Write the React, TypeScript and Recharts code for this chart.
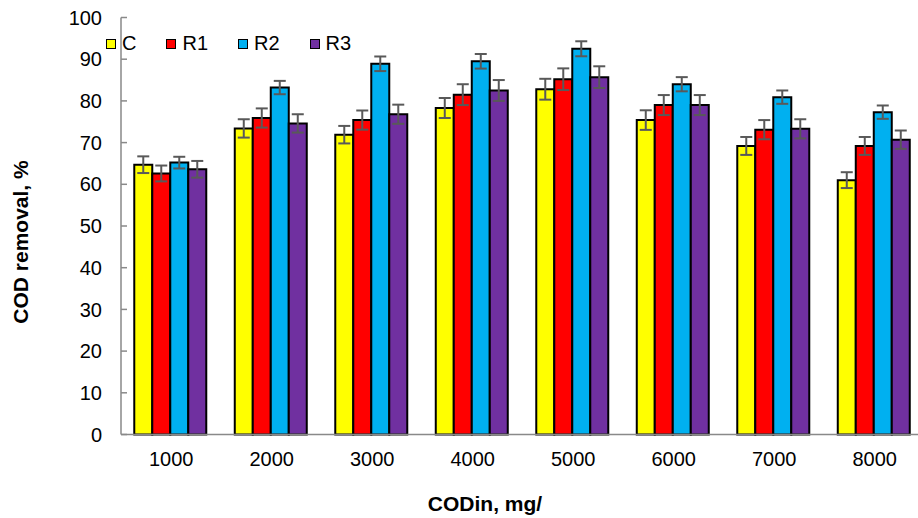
import React from 'react';
import { BarChart, Bar, XAxis, YAxis, Legend, ErrorBar } from 'recharts';

// COD influent concentrations (mg/L)
const categories = ['1000', '2000', '3000', '4000', '5000', '6000', '7000', '8000'];

// removal efficiency, %
const cValues = [64.7, 73.4, 71.9, 78.3, 82.8, 75.4, 69.2, 61.0];
const r1Values = [62.6, 75.9, 75.4, 81.5, 85.2, 79.0, 73.1, 69.2];
const r2Values = [65.2, 83.2, 88.9, 89.5, 92.5, 84.0, 80.9, 77.3];
const r3Values = [63.6, 74.6, 76.8, 82.5, 85.7, 79.0, 73.3, 70.7];

// error bar half-lengths
const cErrors = [2.0, 2.2, 2.1, 2.4, 2.5, 2.35, 2.15, 1.9];
const r1Errors = [1.9, 2.3, 2.3, 2.5, 2.6, 2.4, 2.3, 2.15];
const r2Errors = [1.4, 1.6, 1.75, 1.75, 1.8, 1.7, 1.6, 1.6];
const r3Errors = [2.0, 2.2, 2.3, 2.5, 2.6, 2.4, 2.3, 2.2];

const yTicks = [0, 10, 20, 30, 40, 50, 60, 70, 80, 90, 100];

const data = categories.map((name, i) => ({
  name,
  C: cValues[i],
  R1: r1Values[i],
  R2: r2Values[i],
  R3: r3Values[i],
  cErr: cErrors[i],
  r1Err: r1Errors[i],
  r2Err: r2Errors[i],
  r3Err: r3Errors[i],
}));

const FONT = '"Liberation Sans", Arial, sans-serif';
const AXIS_GRAY = '#898989';
const ERR_GRAY = '#595959';

const YTick = ({ x, y, payload }: any) => (
  <g>
    <line x1={x + 19} x2={x + 25} y1={y} y2={y} stroke={AXIS_GRAY} strokeWidth={1.5} />
    <text x={x} y={y} dy="0.355em" textAnchor="end" fontSize={20} fill="#000" fontFamily={FONT}>
      {payload.value}
    </text>
  </g>
);

const renderLegend = ({ payload }: any) => (
  <div style={{ display: 'flex', alignItems: 'center', fontFamily: FONT, fontSize: 20, color: '#000' }}>
    {(payload || []).map((p: any) => (
      <div key={p.value} style={{ display: 'flex', alignItems: 'center', marginRight: 30 }}>
        <div
          style={{
            width: 8,
            height: 8,
            border: '1.5px solid #000',
            backgroundColor: p.color,
            marginRight: 6,
          }}
        />
        <span>{p.value}</span>
      </div>
    ))}
  </div>
);

const xTitle = () => (
  <text x={485} y={511} textAnchor="middle" fontSize={21} fontWeight="bold" fill="#000" fontFamily={FONT}>
    CODin, mg/
  </text>
);

const yTitle = () => (
  <text
    x={20}
    y={242}
    transform="rotate(-90, 20, 242)"
    textAnchor="middle"
    dominantBaseline="central"
    fontSize={21}
    fontWeight="bold"
    fill="#000"
    fontFamily={FONT}
  >
    COD removal, %
  </text>
);

export default function App() {
  return (
    <div style={{ position: 'absolute', left: 0, top: 0, width: 918, height: 518, overflow: 'hidden', background: '#fff', fontFamily: FONT }}>
      <BarChart
        width={925}
        height={518}
        data={data}
        margin={{ top: 17.5, right: 0, bottom: 23.5, left: 0 }}
        barCategoryGap="13.2%"
        barGap={0}
      >
        <XAxis
          dataKey="name"
          height={60}
          tickLine={false}
          tickSize={6}
          tickMargin={11}
          axisLine={{ stroke: AXIS_GRAY, strokeWidth: 1.5 }}
          tick={{ fontSize: 20, fill: '#000', fontFamily: FONT }}
          interval={0}
          label={xTitle}
        />
        <YAxis
          width={121}
          domain={[0, 100]}
          ticks={yTicks}
          interval={0}
          tickLine={false}
          tickSize={0}
          tickMargin={19}
          axisLine={{ stroke: AXIS_GRAY, strokeWidth: 1.5 }}
          tick={<YTick />}
          label={yTitle}
        />
        <Legend
          verticalAlign="middle"
          align="center"
          layout="horizontal"
          content={renderLegend}
          wrapperStyle={{ top: 32, left: 106, width: 'auto' }}
        />
        <Bar dataKey="C" fill="#FFFF00" stroke="#000" strokeWidth={2} isAnimationActive={false}>
          <ErrorBar dataKey="cErr" width={6} stroke={ERR_GRAY} strokeWidth={2} isAnimationActive={false} />
        </Bar>
        <Bar dataKey="R1" fill="#FF0000" stroke="#000" strokeWidth={2} isAnimationActive={false}>
          <ErrorBar dataKey="r1Err" width={6} stroke={ERR_GRAY} strokeWidth={2} isAnimationActive={false} />
        </Bar>
        <Bar dataKey="R2" fill="#00B0F0" stroke="#000" strokeWidth={2} isAnimationActive={false}>
          <ErrorBar dataKey="r2Err" width={6} stroke={ERR_GRAY} strokeWidth={2} isAnimationActive={false} />
        </Bar>
        <Bar dataKey="R3" fill="#7030A0" stroke="#000" strokeWidth={2} isAnimationActive={false}>
          <ErrorBar dataKey="r3Err" width={6} stroke={ERR_GRAY} strokeWidth={2} isAnimationActive={false} />
        </Bar>
      </BarChart>
    </div>
  );
}
